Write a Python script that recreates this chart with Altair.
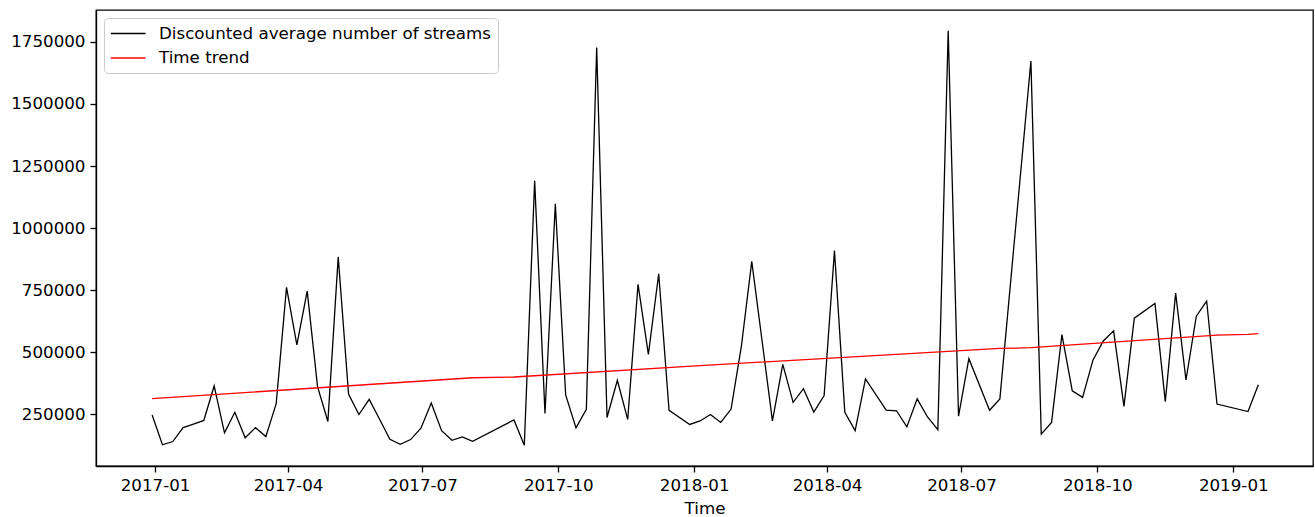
import altair as alt
import pandas as pd

# Observed series (weekly, with some missing weeks)
obs_dates = [
    "2016-12-30", "2017-01-06", "2017-01-13", "2017-01-20", "2017-01-27", "2017-02-03",
    "2017-02-10", "2017-02-17", "2017-02-24", "2017-03-03", "2017-03-10", "2017-03-17",
    "2017-03-24", "2017-03-31", "2017-04-07", "2017-04-14", "2017-04-21", "2017-04-28",
    "2017-05-05", "2017-05-12", "2017-05-19", "2017-05-26", "2017-06-02", "2017-06-09",
    "2017-06-16", "2017-06-23", "2017-06-30", "2017-07-07", "2017-07-14", "2017-07-21",
    "2017-07-28", "2017-08-04", "2017-09-01", "2017-09-08", "2017-09-15", "2017-09-22",
    "2017-09-29", "2017-10-06", "2017-10-13", "2017-10-20", "2017-10-27", "2017-11-03",
    "2017-11-10", "2017-11-17", "2017-11-24", "2017-12-01", "2017-12-08", "2017-12-15",
    "2017-12-29", "2018-01-05", "2018-01-12", "2018-01-19", "2018-01-26", "2018-02-02",
    "2018-02-09", "2018-02-16", "2018-02-23", "2018-03-02", "2018-03-09", "2018-03-16",
    "2018-03-23", "2018-03-30", "2018-04-06", "2018-04-13", "2018-04-20", "2018-04-27",
    "2018-05-11", "2018-05-18", "2018-05-25", "2018-06-01", "2018-06-08", "2018-06-15",
    "2018-06-22", "2018-06-29", "2018-07-06", "2018-07-20", "2018-07-27", "2018-08-17",
    "2018-08-24", "2018-08-31", "2018-09-07", "2018-09-14", "2018-09-21", "2018-09-28",
    "2018-10-05", "2018-10-12", "2018-10-19", "2018-10-26", "2018-11-09", "2018-11-16",
    "2018-11-23", "2018-11-30", "2018-12-07", "2018-12-14", "2018-12-21", "2019-01-11",
    "2019-01-18",
]
obs_values = [
    247000, 127000, 140000, 196000, 210000, 225000,
    364000, 175000, 258000, 155000, 196000, 160000,
    293000, 761000, 529000, 746000, 361000, 221000,
    884000, 331000, 249000, 310000, 230000, 149000,
    129000, 148000, 194000, 295000, 184000, 145000,
    159000, 141000, 227000, 125000, 1191000, 253000,
    1098000, 328000, 195000, 270000, 1727000, 237000,
    387000, 229000, 773000, 491000, 816000, 266000,
    209000, 223000, 249000, 217000, 271000, 525000,
    866000, 545000, 223000, 451000, 298000, 353000,
    259000, 325000, 909000, 258000, 184000, 392000,
    267000, 264000, 199000, 312000, 239000, 188000,
    1795000, 242000, 474000, 266000, 312000, 1673000,
    170000, 217000, 571000, 344000, 318000, 468000,
    545000, 586000, 282000, 637000, 696000, 301000,
    738000, 388000, 645000, 706000, 291000, 261000,
    369000,
]

# Time trend, read at its visible bends
trend_dates = ["2016-12-30", "2017-08-04", "2017-09-01", "2018-01-05", "2018-07-27",
               "2018-08-17", "2018-12-21", "2019-01-11", "2019-01-18"]
trend_values = [313000, 397000, 400000, 446000, 515000, 518000, 569000, 572000, 575000]

S1 = "Discounted average number of streams"
S2 = "Time trend"

df = pd.concat([
    pd.DataFrame({"date": obs_dates, "value": obs_values, "series": S1}),
    pd.DataFrame({"date": trend_dates, "value": trend_values, "series": S2}),
], ignore_index=True)

x_ticks = [alt.DateTime(year=y, month=m, date=1, utc=True)
           for y, m in [(2017, 1), (2017, 4), (2017, 7), (2017, 10), (2018, 1),
                        (2018, 4), (2018, 7), (2018, 10), (2019, 1)]]
y_ticks = [250000, 500000, 750000, 1000000, 1250000, 1500000, 1750000]

FS = 16.7

chart = alt.Chart(df).mark_line(strokeWidth=1.3).encode(
    x=alt.X("date:T", title="Time",
            scale=alt.Scale(type="utc",
                            domain=[alt.DateTime(year=2016, month=11, date=22, utc=True),
                                    alt.DateTime(year=2019, month=2, date=24, utc=True)]),
            axis=alt.Axis(values=x_ticks, format="%Y-%m", grid=False)),
    y=alt.Y("value:Q", title=None,
            scale=alt.Scale(domain=[41500, 1878500], nice=False, zero=False),
            axis=alt.Axis(values=y_ticks, format="d", grid=False)),
    color=alt.Color("series:N",
                    scale=alt.Scale(domain=[S1, S2], range=["#000000", "#ff0000"]),
                    legend=alt.Legend(title=None, orient="none", legendX=8, legendY=8,
                                      symbolType="M-1,0H3", symbolSize=300,
                                      symbolStrokeWidth=1.3, labelOffset=30,
                                      labelFontSize=FS, labelColor="black",
                                      labelLimit=600,
                                      padding=6, rowPadding=5.5,
                                      fillColor="rgba(255,255,255,0.8)",
                                      strokeColor="#cccccc", cornerRadius=4)),
    order=alt.Order("date:T"),
).properties(
    width=1217, height=456,
    padding={"left": 96, "top": 10, "right": 2, "bottom": 51},
    autosize=alt.AutoSizeParams(type="none"),
).configure(
    font="DejaVu Sans",
).configure_view(
    stroke="black", strokeWidth=1.3,
).configure_axis(
    labelFontSize=FS, labelColor="black", labelFont="DejaVu Sans",
    titleFontSize=FS, titleColor="black", titleFontWeight="normal", titleFont="DejaVu Sans",
    tickColor="black", tickSize=6, tickWidth=1.3,
    domainColor="black", domainWidth=1.3,
    labelPadding=5, titlePadding=7,
).configure_legend(
    labelFont="DejaVu Sans",
)

chart.save("out.html", embed_options={"renderer": "svg", "actions": False})
